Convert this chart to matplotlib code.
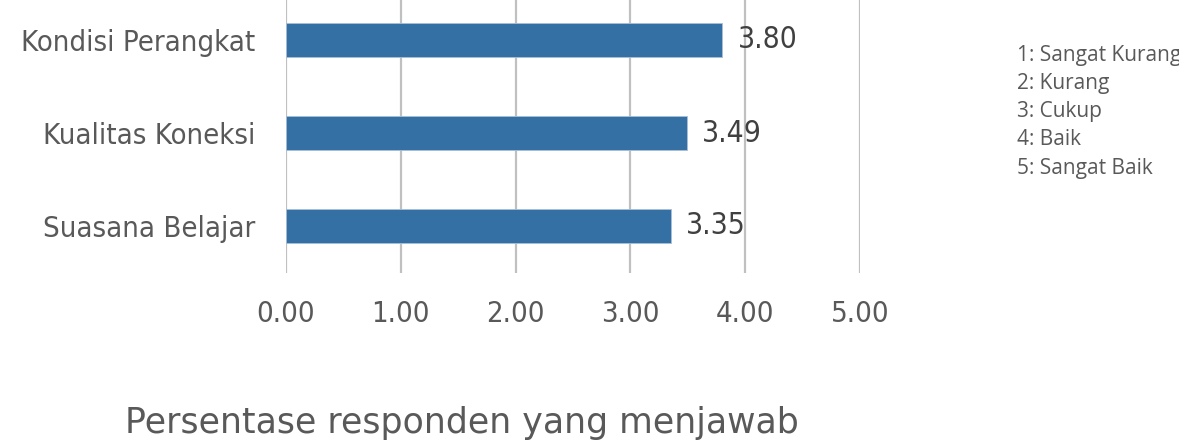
import matplotlib
matplotlib.use("Agg")
import matplotlib.pyplot as plt

# data
categories = ["Suasana Belajar", "Kualitas Koneksi", "Kondisi Perangkat"]
scores = [3.35, 3.49, 3.80]
xticks = [0, 1, 2, 3, 4, 5]
legend_lines = ["1: Sangat Kurang", "2: Kurang", "3: Cukup", "4: Baik", "5: Sangat Baik"]
xlabel = "Persentase responden yang menjawab"

W, H = 1179, 447
fig = plt.figure(figsize=(W / 100, H / 100), dpi=100)
plt.rcParams['font.family'] = ['DejaVu Sans']

# axes in pixel terms: x0=286, x5=860, top beyond image, bottom at 272
left, right = 286 / W, 860 / W
bottom = 1 - 272.5 / H
top = 1 + 6.5 / H
ax = fig.add_axes([left, bottom, right - left, top - bottom])

ypos = list(range(len(categories)))
ax.barh(ypos, scores, height=0.365, color="#3570a5", edgecolor="#a9bfd6",
        linewidth=0.6, zorder=3)
for x in xticks:
    ax.axvline(x, color="#c0c0c0", lw=1.6, zorder=1)

for y, v in zip(ypos, scores):
    ax.annotate("%.2f" % v, (v, y), xytext=(11, 0), textcoords="offset points",
                va="center", ha="left", fontsize=21.5, color="#404040",
                fontstretch="condensed", zorder=4)

ax.set_xlim(0, 5)
ax.set_ylim(-0.5, 2.5)
ax.set_yticks(ypos)
ax.set_yticklabels(categories, fontsize=21, color="#595959",
                   fontstretch="condensed")
ax.set_xticks(xticks)
ax.set_xticklabels(["%.2f" % t for t in xticks], fontsize=21, color="#595959",
                   fontstretch="condensed")
ax.tick_params(length=0)
ax.tick_params(axis="x", pad=20)
ax.tick_params(axis="y", pad=22)
for s in ax.spines.values():
    s.set_visible(False)

fig.text(462 / W, 1 - 423 / H, xlabel, ha="center", va="center",
         fontsize=25, color="#595959")

for i, t in enumerate(legend_lines):
    fig.text(1017 / W, 1 - (55 + i * 28.3) / H, t, ha="left", va="center",
             fontsize=15, color="#595959", family="Open Sans")

fig.savefig("out.png", dpi=100)
